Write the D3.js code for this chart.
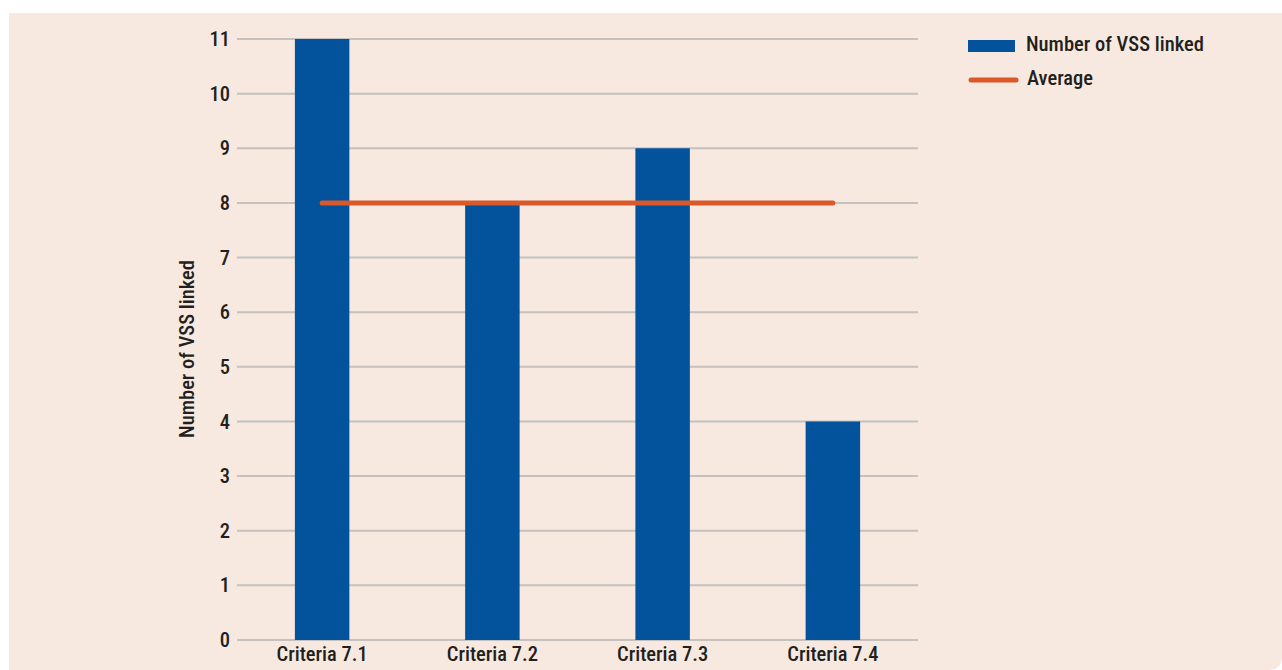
<!DOCTYPE html>
<html><head><meta charset="utf-8">
<script src="https://cdn.jsdelivr.net/npm/d3@7"></script>
<style>
html,body{margin:0;padding:0;background:#fff;}
svg{display:block;}
text{font-family:"Liberation Sans Narrow","Roboto Condensed","DejaVu Sans Condensed",sans-serif;fill:#231f20;font-weight:500;}
</style></head>
<body>
<svg id="chart" width="1282" height="670"></svg>
<script>
const categories = ["Criteria 7.1","Criteria 7.2","Criteria 7.3","Criteria 7.4"];
const vssLinked = [11, 8, 9, 4];
const averageValues = [8, 8, 8, 8];
const yTicks = [0,1,2,3,4,5,6,7,8,9,10,11];
const legendLabels = ["Number of VSS linked","Average"];
const yAxisTitle = "Number of VSS linked";

const svg = d3.select("#chart");
const W = 1282, H = 670;
const bg = "#f7e9df", blue = "#02529c", orange = "#d9592b", grid = "#c4c1bf";
const FS = 20.5;
const FF = '"Liberation Sans Narrow","Roboto Condensed","DejaVu Sans Condensed",sans-serif';

// panel with rounded bottom-right corner
const px = 9, py = 13, r = 14;
svg.append("path")
  .attr("d", `M${px},${py}H${W}V${H-r}Q${W},${H} ${W-r},${H}H${px}Z`)
  .attr("fill", bg);

const m = {left:237, right:918, top:39, bottom:640};
const x = d3.scaleBand().domain(categories).range([m.left, m.right]).paddingInner(0.68).paddingOuter(0.34);
const y = d3.scaleLinear().domain([0,11]).range([m.bottom, m.top]);

// gridlines
svg.append("g").selectAll("line").data(yTicks).join("line")
  .attr("x1", m.left).attr("x2", m.right)
  .attr("y1", d=>y(d)).attr("y2", d=>y(d))
  .attr("stroke", grid).attr("stroke-width", 2);

// y tick labels
const yAxis = d3.axisLeft(y).tickValues(yTicks).tickSize(0).tickPadding(0).tickFormat(d3.format("d"));
const ga = svg.append("g").attr("transform", `translate(${m.left-7},0)`).call(yAxis);
ga.select(".domain").remove();
ga.selectAll("text").attr("font-size", FS).attr("fill", "#231f20").attr("font-family", FF).attr("font-weight", 500);

// bars
svg.append("g").selectAll("rect").data(categories).join("rect")
  .attr("x", d=>x(d)).attr("width", x.bandwidth())
  .attr("y", (d,i)=>y(vssLinked[i])).attr("height", (d,i)=>y(0)-y(vssLinked[i]))
  .attr("fill", blue);

// x labels
const xAxis = d3.axisBottom(x).tickSize(0).tickPadding(0);
const gx = svg.append("g").attr("transform", `translate(0,${m.bottom+3})`).call(xAxis);
gx.select(".domain").remove();
gx.selectAll("text").attr("font-size", FS).attr("dy", "0.9em").attr("fill", "#231f20").attr("font-family", FF).attr("font-weight", 500);

// average line
const line = d3.line().x((d,i)=>x(categories[i]) + x.bandwidth()/2).y(d=>y(d));
svg.append("path").datum(averageValues).attr("d", line)
  .attr("fill","none").attr("stroke", orange).attr("stroke-width", 5).attr("stroke-linecap","round");

// y axis title
svg.append("text").attr("transform", `translate(194,349) rotate(-90)`)
  .attr("text-anchor","middle").attr("font-size", FS).text(yAxisTitle);

// legend
const lg = svg.append("g");
lg.append("rect").attr("x", 968).attr("y", 40).attr("width", 47).attr("height", 12).attr("fill", blue);
lg.append("text").attr("x", 1026).attr("y", 44).attr("dy","0.35em").attr("font-size", FS).text(legendLabels[0]);
lg.append("line").attr("x1", 971).attr("x2", 1016).attr("y1", 80).attr("y2", 80)
  .attr("stroke", orange).attr("stroke-width", 5).attr("stroke-linecap","round");
lg.append("text").attr("x", 1027).attr("y", 78).attr("dy","0.35em").attr("font-size", FS).text(legendLabels[1]);
</script>
</body></html>
